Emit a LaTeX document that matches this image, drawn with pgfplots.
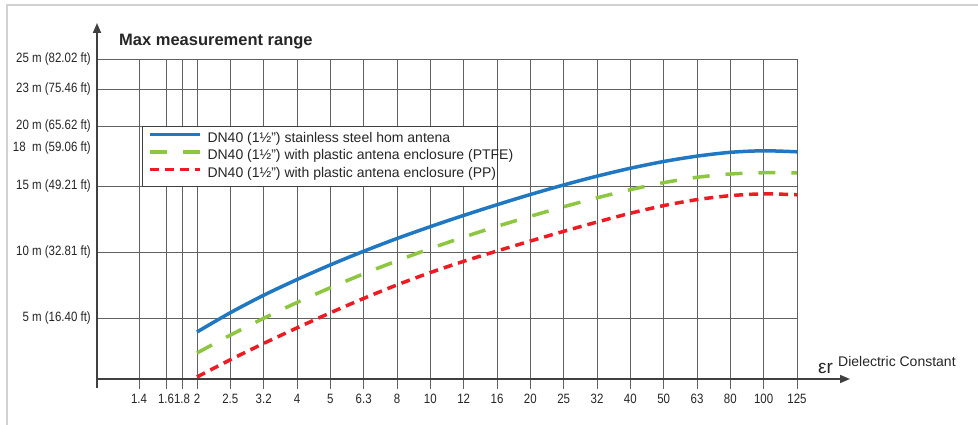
\documentclass[border=0pt]{standalone}
\usepackage{fontspec}
\setmainfont{Liberation Sans}
\newfontfamily\narrowfont[FakeStretch=0.85]{Liberation Sans}
\usepackage{pgfplots}
\pgfplotsset{compat=1.18}
\usetikzlibrary{arrows.meta}
\definecolor{cblue}{HTML}{1F78C1}
\definecolor{cgreen}{HTML}{8DC63F}
\definecolor{cred}{HTML}{ED1C24}
\definecolor{gridc}{gray}{0.38}
\definecolor{txt}{gray}{0.15}

\begin{document}
\begin{tikzpicture}
\path[use as bounding box] (-97bp,-46bp) rectangle (881bp,379bp);
\fill[white] (-97bp,-46bp) rectangle (881bp,379bp);
\draw[gray!35, line width=1.5bp] (-90bp,-46bp) -- (-90bp,374bp) -- (881bp,374bp);
\begin{axis}[
  scale only axis, width=700bp, height=320bp,
  xmin=0, xmax=21, ymin=0, ymax=25.1,
  axis line style={draw=none},
  /pgf/number format/assume math mode=true,
  xtick={1.26,2.07,2.55,3,4,...,21},
  xticklabels={1.4,1.6,1.8,2,2.5,3.2,4,5,6.3,8,10,12,16,20,25,32,40,50,63,80,100,125},
  ytick={4.78,9.96,15.14,19.84,22.75,25.1},
  yticklabels={5 m (16.40 ft),10 m (32.81 ft),15 m (49.21 ft),20 m (65.62 ft),23 m (75.46 ft),25 m (82.02 ft)},
  extra y ticks={18.1},
  extra y tick labels={18\ \ m (59.06 ft)},
  extra y tick style={grid=none},
  xtick pos=bottom, ytick pos=left,
  tick align=outside,
  major tick length=10bp,
  xmajorgrids, ymajorgrids,
  major grid style={gridc, line width=0.8bp},
  xtick style={gridc, line width=0.8bp},
  ytick style={draw=none},
  xticklabel style={font=\narrowfont\fontsize{13.5bp}{15bp}\selectfont, inner sep=0pt, yshift=-5bp, text=txt},
  yticklabel style={font=\narrowfont\fontsize{13.5bp}{15bp}\selectfont, inner sep=0pt, xshift=4bp, text=txt},
  legend style={at={(axis cs:1.53,19.37)}, anchor=north west, draw=none, fill=none,
    inner sep=0pt, outer sep=0pt, font=\fontsize{14bp}{16bp}\selectfont, text=txt,
    row sep=4bp, column sep=6bp,
    nodes={inner sep=0pt, text height=10bp, text depth=3.5bp}},
  legend cell align=left,
  legend image code/.code={\draw[#1] (0bp,4.5bp) -- (50bp,4.5bp);},
]
\draw[fill=white, draw=black!75, line width=0.8bp] (axis cs:1.35,15.14) rectangle (axis cs:12,19.84);

\addplot[cblue, line width=3.5bp, smooth, line join=round] coordinates {
 (3,3.69) (4,5.20) (5,6.57) (6,7.80) (7,8.95) (8,10.02) (9,11.02) (10,11.95) (11,12.83)
 (12,13.67) (13,14.47) (14,15.22) (15,15.91) (16,16.53) (17,17.06) (18,17.48) (19,17.78) (20,17.90) (21,17.82)};
\addlegendentry{DN40 (1½”) stainless steel hom antena}

\addplot[cgreen, line width=3.5bp, smooth, dash pattern=on 17bp off 16bp] coordinates {
 (3,2.04) (4,3.44) (5,4.76) (6,6.00) (7,7.16) (8,8.25) (9,9.27) (10,10.23) (11,11.13)
 (12,11.97) (13,12.76) (14,13.51) (15,14.21) (16,14.85) (17,15.40) (18,15.82) (19,16.08) (20,16.18) (21,16.16)};
\addlegendentry{DN40 (1½”) with plastic antena enclosure (PTFE)}

\addplot[cred, line width=3.5bp, smooth, dash pattern=on 9bp off 6bp] coordinates {
 (3,0.16) (4,1.51) (5,2.79) (6,4.01) (7,5.19) (8,6.32) (9,7.38) (10,8.35) (11,9.23)
 (12,10.04) (13,10.82) (14,11.58) (15,12.31) (16,13.00) (17,13.60) (18,14.07) (19,14.38) (20,14.52) (21,14.45)};
\addlegendentry{DN40 (1½”) with plastic antena enclosure (PP)}
\end{axis}
\draw[black!75, line width=1.8bp, -{Triangle[length=10bp,width=8bp]}] (0,-9bp) -- (0,356bp);
\draw[black!75, line width=1.5bp, -{Triangle[length=10bp,width=8bp]}] (-1bp,0) -- (753bp,0);
\node[anchor=base west, inner sep=0pt, font=\bfseries\fontsize{16.5bp}{18bp}\selectfont, text=txt] at (22bp,333bp) {Max measurement range};
\node[anchor=base west, inner sep=0pt, font=\fontsize{19bp}{20bp}\selectfont, text=txt] at (721bp,6bp) {εr};
\node[anchor=base west, inner sep=0pt, font=\fontsize{14bp}{16bp}\selectfont, text=txt] at (741bp,13bp) {Dielectric Constant};
\end{tikzpicture}
\end{document}
